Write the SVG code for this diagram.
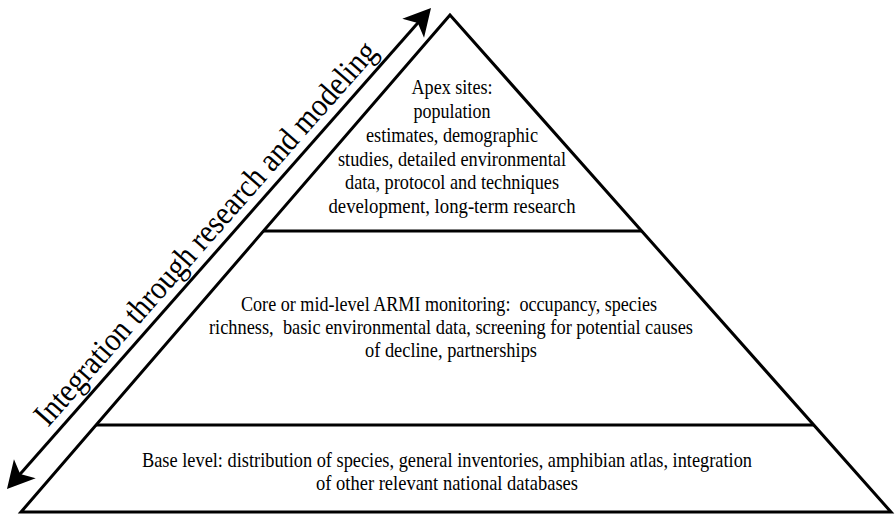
<svg xmlns="http://www.w3.org/2000/svg" width="896" height="515" viewBox="0 0 896 515">
<style>
.bg{fill:#ffffff}
.edge{fill:none;stroke:#000;stroke-width:3;stroke-linejoin:miter}
.div{stroke:#000;stroke-width:3;fill:none}
.t{font-family:"Liberation Serif","Times New Roman",serif;font-size:21px;fill:#000;text-anchor:middle}
.rt{font-family:"Liberation Serif","Times New Roman",serif;font-size:33px;fill:#000;text-anchor:middle}
.arr{stroke:#000;stroke-width:3;fill:none}
</style>
<defs>
<marker id="head" markerUnits="userSpaceOnUse" markerWidth="60" markerHeight="60" refX="0" refY="0" orient="auto-start-reverse" overflow="visible" viewBox="-30 -30 60 60">
<path d="M15,0 L-12,-14.5 L-5,0 L-12,14.5 Z" fill="#000"/>
</marker>
</defs>
<rect class="bg" x="0" y="0" width="896" height="515"/>
<g id="pyramid">
<polygon class="edge" points="450,15 21,512 891,512"/>
</g>
<g id="apex">
<line class="div" x1="263.6" y1="231" x2="641.7" y2="231"/>
<text class="t" x="452" y="94" textLength="81" lengthAdjust="spacingAndGlyphs">Apex sites:</text>
<text class="t" x="452" y="118" textLength="77" lengthAdjust="spacingAndGlyphs">population</text>
<text class="t" x="452" y="142" textLength="172" lengthAdjust="spacingAndGlyphs">estimates, demographic</text>
<text class="t" x="452" y="165.5" textLength="228" lengthAdjust="spacingAndGlyphs">studies, detailed environmental</text>
<text class="t" x="452" y="189" textLength="214" lengthAdjust="spacingAndGlyphs">data, protocol and techniques</text>
<text class="t" x="452" y="212.5" textLength="247" lengthAdjust="spacingAndGlyphs">development, long-term research</text>
</g>
<g id="core">
<line class="div" x1="96.1" y1="425" x2="813.8" y2="425"/>
<text class="t" x="449" y="311" textLength="416" lengthAdjust="spacingAndGlyphs">Core or mid-level ARMI monitoring:&#160; occupancy, species</text>
<text class="t" x="451" y="334" textLength="484" lengthAdjust="spacingAndGlyphs">richness,&#160; basic environmental data, screening for potential causes</text>
<text class="t" x="451" y="357" textLength="172" lengthAdjust="spacingAndGlyphs">of decline, partnerships</text>
</g>
<g id="base">
<text class="t" x="447" y="467" textLength="610" lengthAdjust="spacingAndGlyphs">Base level: distribution of species, general inventories, amphibian atlas, integration</text>
<text class="t" x="447" y="490" textLength="262" lengthAdjust="spacingAndGlyphs">of other relevant national databases</text>
</g>
<g id="connectors">
<line class="arr" x1="16.9" y1="477.75" x2="421.1" y2="19.25" marker-start="url(#head)" marker-end="url(#head)"/>
<text class="rt" x="213.3" y="240.3" transform="rotate(-48.6 213.3 240.3)" textLength="500" lengthAdjust="spacingAndGlyphs">Integration through research and modeling</text>
</g>
</svg>
